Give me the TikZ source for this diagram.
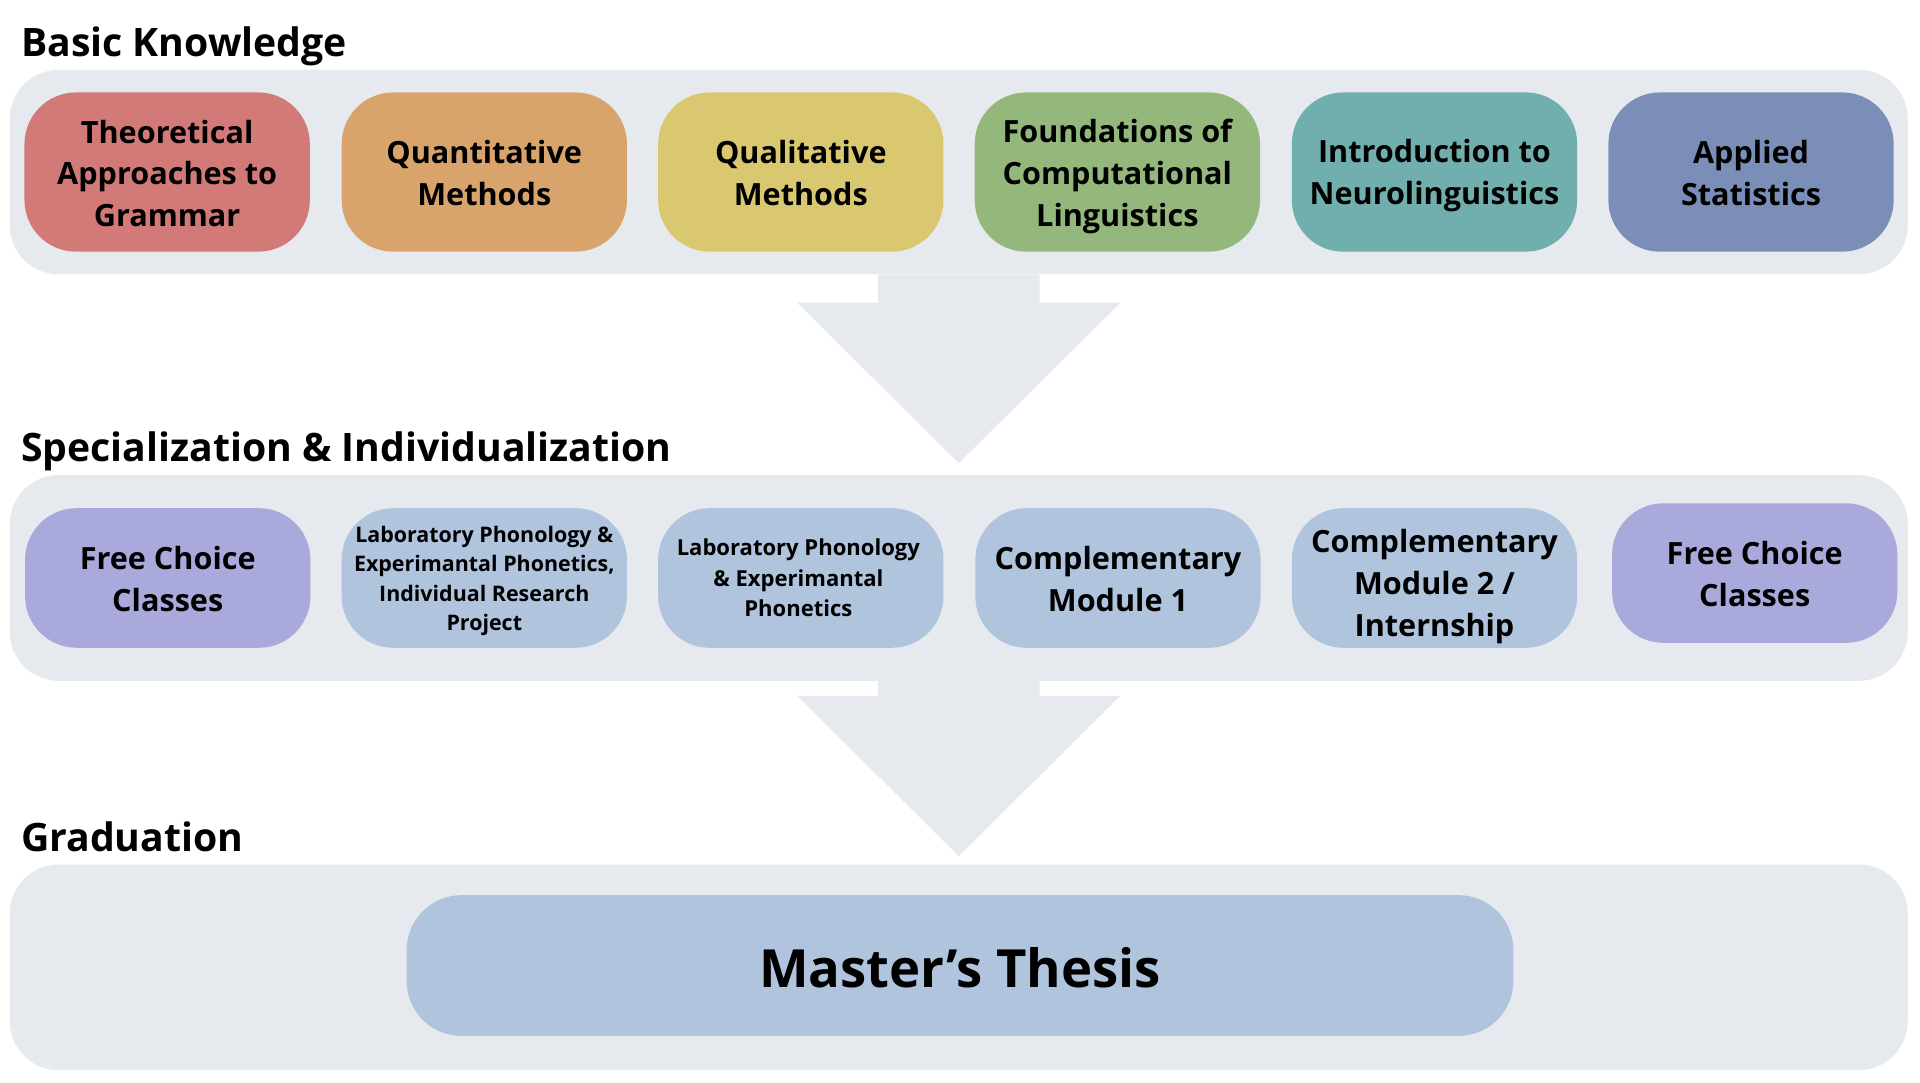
\documentclass[tikz,border=0pt]{standalone}
\usepackage{fontspec}
\setmainfont{Open Sans}
\usetikzlibrary{calc}
\definecolor{panelc}{HTML}{E6EAEE}
\definecolor{cred}{HTML}{D17A78}
\definecolor{corange}{HTML}{D9A46C}
\definecolor{cyellow}{HTML}{DAC870}
\definecolor{cgreen}{HTML}{94B77B}
\definecolor{cteal}{HTML}{70AFAD}
\definecolor{cslate}{HTML}{7A8EB7}
\definecolor{cpurple}{HTML}{AAA9DC}
\definecolor{clblue}{HTML}{B0C4DE}
\begin{document}
\begin{tikzpicture}[x=1pt,y=-1pt,
  panel/.style={fill=panelc, rounded corners=40pt, minimum width=1550pt, inner sep=0pt},
  box/.style={rounded corners=42pt, minimum width=233pt, inner sep=0pt},
  txt/.style={inner sep=0pt, align=center, font=\bfseries\fontsize{25}{34}\selectfont},
  smalltxt/.style={txt, font=\bfseries\fontsize{17.5}{24}\selectfont},
  title/.style={anchor=base west, inner sep=0pt, font=\bfseries\fontsize{32}{38}\selectfont},
  blockarrow/.style={fill=panelc}
]
\useasboundingbox (0,0) rectangle (1568,884);
\fill[white] (0,0) rectangle (1568,884);

% titles
\node[title] (t1) at (17,46) {Basic Knowledge};
\node[title] (t2) at (17,377) {Specialization \& Individualization};
\node[title] (t3) at (17,695.5) {Graduation};

% panels
\node[panel, minimum height=167pt] (p1) at (783,140.5) {};
\node[panel, minimum height=168pt] (p2) at (783,472) {};
\node[panel, minimum height=168pt] (p3) at (783,790) {};

% arrows
\fill[blockarrow] ([xshift=-66pt]p1.south) -- ++(0,23) -- ++(-66,0) -- ($(p1.south)+(0,154)$)
  -- ($(p1.south)+(132,23)$) -- ++(-66,0) -- ([xshift=66pt]p1.south) -- cycle;
\fill[blockarrow] ([xshift=-66pt]p2.south) -- ++(0,12) -- ++(-66,0) -- ($(p2.south)+(0,143)$)
  -- ($(p2.south)+(132,12)$) -- ++(-66,0) -- ([xshift=66pt]p2.south) -- cycle;

% row 1
\node[box, fill=cred,    minimum height=130pt] (a1) at (136.5,140.5) {};
\node[box, fill=corange, minimum height=130pt] (a2) at (395.5,140.5) {};
\node[box, fill=cyellow, minimum height=130pt] (a3) at (654,140.5) {};
\node[box, fill=cgreen,  minimum height=130pt] (a4) at (912.5,140.5) {};
\node[box, fill=cteal,   minimum height=130pt] (a5) at (1171.5,140.5) {};
\node[box, fill=cslate,  minimum height=130pt] (a6) at (1430,140.5) {};
\node[txt] (a1t) at ([yshift=-1pt]a1.center) {Theoretical\\Approaches to\\Grammar};
\node[txt] (a2t) at ([yshift=-1pt]a2.center) {Quantitative\\Methods};
\node[txt] (a3t) at ([yshift=-1pt]a3.center) {Qualitative\\Methods};
\node[txt] (a4t) at ([yshift=-3.5pt]a4.center) {Foundations of\\Computational\\Linguistics};
\node[txt] (a5t) at ([yshift=-3pt]a5.center) {Introduction to\\Neurolinguistics};
\node[txt] (a6t) at ([yshift=-1pt]a6.center) {Applied\\Statistics};

% row 2
\node[box, fill=cpurple, minimum height=114pt] (s1) at (137,472) {};
\node[box, fill=clblue,  minimum height=114pt] (s2) at (395.5,472) {};
\node[box, fill=clblue,  minimum height=114pt] (s3) at (654,472) {};
\node[box, fill=clblue,  minimum height=114pt] (s4) at (913,472) {};
\node[box, fill=clblue,  minimum height=114pt] (s5) at (1171.5,472) {};
\node[box, fill=cpurple, minimum height=114pt] (s6) at (1433,468) {};
\node[txt] (s1t) at ([yshift=-1pt]s1.center) {Free Choice\\Classes};
\node[smalltxt] (s2t) at ([yshift=-2.5pt]s2.center) {Laboratory Phonology \&\\Experimantal Phonetics,\\Individual Research\\Project};
\node[smalltxt, font=\bfseries\fontsize{18}{25}\selectfont] (s3t) at ([xshift=-2pt]s3.center) {Laboratory Phonology\\\& Experimantal\\Phonetics};
\node[txt] (s4t) at ([yshift=-1pt]s4.center) {Complementary\\Module 1};
\node[txt] (s5t) at ([yshift=-7pt]s5.center) {Complementary\\Module 2 /\\Internship};
\node[txt] (s6t) at ([yshift=-1pt]s6.center) {Free Choice\\Classes};

% graduation
\node[box, fill=clblue, minimum width=904pt, minimum height=115pt, rounded corners=45pt] (m) at (784,788.5) {};
\node[txt, font=\bfseries\fontsize{43}{50}\selectfont] (mt) at ([yshift=-1.5pt]m.center) {Master’s Thesis};
\end{tikzpicture}
\end{document}
